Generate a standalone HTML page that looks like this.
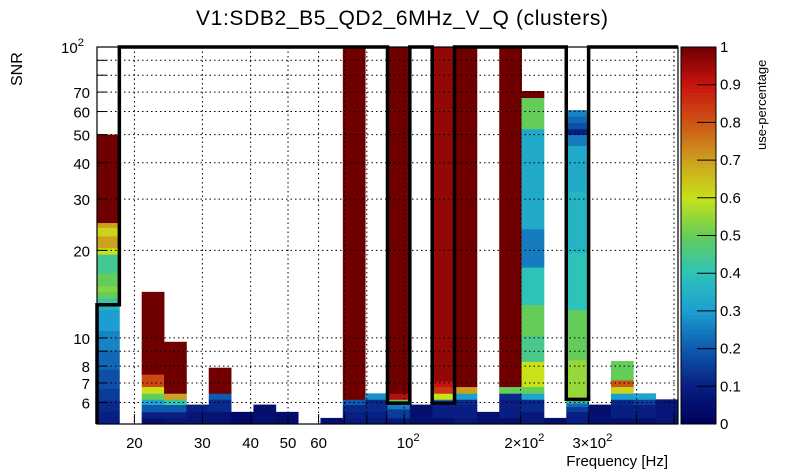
<!DOCTYPE html>
<html><head><meta charset="utf-8"><style>
body{margin:0;background:#fff;}
svg{display:block;font-family:"Liberation Sans",Arial,sans-serif;}
</style></head><body>
<svg id="c" width="805" height="472" viewBox="0 0 805 472">
<text x="402" y="25" font-size="21" text-anchor="middle" textLength="412">V1:SDB2_B5_QD2_6MHz_V_Q (clusters)</text>
<text transform="translate(22,86) rotate(-90)" font-size="16" text-anchor="start">SNR</text>
<text x="668" y="466" font-size="15" text-anchor="end">Frequency [Hz]</text>
<text transform="translate(766,150) rotate(-90)" font-size="13" text-anchor="start">use-percentage</text>
<g id="grid"></g><g id="cells"></g><g id="axes"></g><g id="cbar"></g>
</svg>
<script>
// ---- data ----
const xMin = 16, xMax = 512, nBins = 26;
const yMin = 5.06, yMax = 100;
// each column: segments bottom-up [upper SNR, use-percentage]; [] = empty
const col00 = [[5.6,0.1],[6.1,0.12],[6.7,0.15],[7.8,0.18],[9.1,0.22],[10.6,0.26],[12.5,0.3],[13.0,0.36],[13.7,0.42],[14.4,0.5],[15.1,0.53],[16.7,0.5],[19.4,0.44],[20.4,0.6],[22.4,0.7],[24.0,0.62],[24.9,0.7],[50,1.0]];
const col01 = [];
const col02 = [[5.3,0.05],[5.57,0.1],[5.9,0.2],[6.15,0.32],[6.45,0.5],[6.8,0.6],[7.5,0.82],[14.4,1.0]];
const col03 = [[5.3,0.07],[5.57,0.1],[5.9,0.2],[6.15,0.42],[6.45,0.7],[9.7,1.0]];
const col04 = [[5.57,0.07],[5.9,0.1]];
const col05 = [[5.57,0.06],[6.15,0.12],[6.45,0.2],[7.9,1.0]];
const col06 = [[5.57,0.03]];
const col07 = [[5.9,0.05]];
const col08 = [[5.57,0.04]];
const col09 = [];
const col10 = [[5.31,0.05]];
const col11 = [[5.31,0.08],[5.57,0.1],[5.9,0.12],[6.15,0.2],[100,1.0]];
const col12 = [[5.31,0.08],[5.57,0.1],[6.15,0.12],[6.45,0.28]];
const col13 = [[5.31,0.08],[5.7,0.15],[5.97,0.25],[6.15,0.5],[6.45,0.92],[100,1.0]];
const col14 = [[5.9,0.05]];
const col15 = [[5.31,0.05],[5.9,0.1],[6.15,0.22],[6.45,0.6],[6.8,0.85],[7.1,0.9],[100,0.96]];
const col16 = [[5.31,0.08],[5.9,0.1],[6.15,0.12],[6.45,0.3],[6.8,0.7],[100,1.0]];
const col17 = [[5.57,0.05]];
const col18 = [[5.31,0.05],[6.15,0.1],[6.45,0.12],[6.8,0.5],[100,1.0]];
const col19 = [[5.57,0.08],[6.15,0.12],[6.45,0.32],[6.8,0.5],[8.3,0.6],[10.2,0.45],[13.0,0.5],[17.5,0.4],[23.7,0.25],[52.3,0.33],[67,0.5],[70.6,1.0]];
const col20 = [[5.31,0.05]];
const col21 = [[5.57,0.1],[5.8,0.15],[5.97,0.22],[6.15,0.42],[6.2,0.57],[8.4,0.55],[12.5,0.5],[19.6,0.4],[32,0.36],[45.8,0.33],[50,0.25],[52.3,0.1],[55,0.18],[57.9,0.22],[60.7,0.26]];
const col22 = [[5.9,0.05]];
const col23 = [[5.31,0.05],[5.9,0.1],[6.15,0.12],[6.45,0.3],[6.8,0.62],[7.17,0.8],[8.33,0.5]];
const col24 = [[5.31,0.05],[5.9,0.1],[6.15,0.15],[6.45,0.32]];
const col25 = [[6.15,0.07]];
const columns = [col00,col01,col02,col03,col04,col05,col06,col07,col08,col09,col10,col11,col12,col13,col14,col15,col16,col17,col18,col19,col20,col21,col22,col23,col24,col25];
const xTicks = [20,30,40,50,60,70,80,90,100,200,300,400,500];
const xTickLabels = ["20","30","40","50","60","","","","10^2","2×10^2","3×10^2","",""];
const yTicks = [6,7,8,9,10,20,30,40,50,60,70,80,90,100];
const yTickLabels = ["6","7","8","","10","20","30","40","50","60","70","","","10^2"];
const cbTicks = [0,0.1,0.2,0.3,0.4,0.5,0.6,0.7,0.8,0.9,1];
const outlineCols = [13,15,21]; // dips in black contour
const outlineDepth = [5.97,5.97,6.15];
const leftStepSNR = 13.0;

// ---- geometry ----
const L=97,R=678,T=47,B=424;
const NS="http://www.w3.org/2000/svg";
const lx=v=>Math.log10(v);
const X=f=>L+(R-L)*(lx(f)-lx(xMin))/(lx(xMax)-lx(xMin));
const Y=s=>B-(B-T)*(lx(s)-lx(yMin))/(lx(yMax)-lx(yMin));
const edge=i=>xMin*Math.pow(xMax/xMin,i/nBins);
const stops=[[0,[0,0,90]],[0.1,[8,30,130]],[0.2,[14,90,175]],[0.3,[28,158,208]],[0.4,[45,195,185]],[0.5,[100,205,90]],[0.6,[200,225,25]],[0.7,[205,160,30]],[0.8,[205,85,20]],[0.9,[200,20,15]],[1,[112,0,0]]];
function color(v){v=Math.max(0,Math.min(1,v));for(let i=1;i<stops.length;i++){if(v<=stops[i][0]){const a=stops[i-1],b=stops[i],t=(v-a[0])/(b[0]-a[0]);return 'rgb('+a[1].map((c,k)=>Math.round(c+(b[1][k]-c)*t)).join(',')+')';}}return 'rgb(112,0,0)';}
function mk(tag,attrs,parent){const e=document.createElementNS(NS,tag);for(const k in attrs)e.setAttribute(k,attrs[k]);parent.appendChild(e);return e;}
const gGrid=document.getElementById('grid'),gCells=document.getElementById('cells'),gAx=document.getElementById('axes'),gCb=document.getElementById('cbar');

// cells
columns.forEach((segs,i)=>{let lo=yMin;const x0=X(edge(i)),x1=X(edge(i+1));segs.forEach((sg,j)=>{
  const r=mk('rect',{x:x0,y:Y(sg[0]),width:x1-x0+0.4,height:Y(lo)-Y(sg[0])+0.4,fill:color(sg[1])},gCells);
  
  
  lo=sg[0];});});

// grid
xTicks.forEach(t=>{const l=mk('line',{x1:X(t),x2:X(t),y1:T,y2:B,stroke:'#000','stroke-width':1,'stroke-dasharray':'1.5,3'},gAx);
  
  });
yTicks.forEach(t=>{const l=mk('line',{x1:L,x2:R,y1:Y(t),y2:Y(t),stroke:'#000','stroke-width':1,'stroke-dasharray':'1.5,3'},gAx);
  
  });

// contour outline
let d='M'+X(edge(0))+','+B+' L'+X(edge(0))+','+Y(leftStepSNR)+' L'+X(edge(1))+','+Y(leftStepSNR)+' L'+X(edge(1))+','+T;
outlineCols.forEach((c,k)=>{const y=Y(outlineDepth[k]);d+=' L'+X(edge(c))+','+T+' L'+X(edge(c))+','+y+' L'+X(edge(c+1))+','+y+' L'+X(edge(c+1))+','+T;});
d+=' L'+R+','+T;
const ol=mk('path',{d:d,fill:'none',stroke:'#000','stroke-width':3.5},gAx);



// frame
const fr=mk('rect',{x:L,y:T,width:R-L,height:B-T,fill:'none',stroke:'#000','stroke-width':1.2},gAx);



function label(x,y,txt,anchor,size,parent,name){const t=mk('text',{x:x,y:y,'font-size':size,'text-anchor':anchor},parent);
  if(txt.includes('^')){const p=txt.split('^');t.textContent=p[0];const s=mk('tspan',{dy:-7,'font-size':size*0.75},t);s.textContent=p[1];}else t.textContent=txt;
  
  }
// x ticks
xTicks.forEach((t,i)=>{mk('line',{x1:X(t),x2:X(t),y1:B,y2:B-10,stroke:'#000'},gAx);
  if(xTickLabels[i])label(X(t)+(xTickLabels[i].includes('^')?4:0),448,xTickLabels[i],'middle',15,gAx,'x-tick-label-'+t);});
// y ticks
yTicks.forEach((t,i)=>{mk('line',{x1:L,x2:L+10,y1:Y(t),y2:Y(t),stroke:'#000'},gAx);
  if(yTickLabels[i])label(L-7-(yTickLabels[i].includes('^')?6:0),Y(t)+6,yTickLabels[i],'end',15,gAx,'y-tick-label-'+t);});

// colorbar
const cbX=681,cbW=35;const n=100;
for(let k=0;k<n;k++){mk('rect',{x:cbX,y:B-(k+1)*(B-T)/n,width:cbW,height:(B-T)/n+0.5,fill:color((k+0.5)/n)},gCb);}
const cf=mk('rect',{x:cbX,y:T,width:cbW,height:B-T,fill:'none',stroke:'#000','stroke-width':1},gCb);


cbTicks.forEach(v=>{const y=B-v*(B-T);mk('line',{x1:cbX+cbW-19,x2:cbX+cbW,y1:y,y2:y,stroke:'#000'},gCb);
  label(cbX+cbW+4,y+5,String(v),'start',15,gCb,'colorbar-tick-'+v);});
</script>
</body></html>
